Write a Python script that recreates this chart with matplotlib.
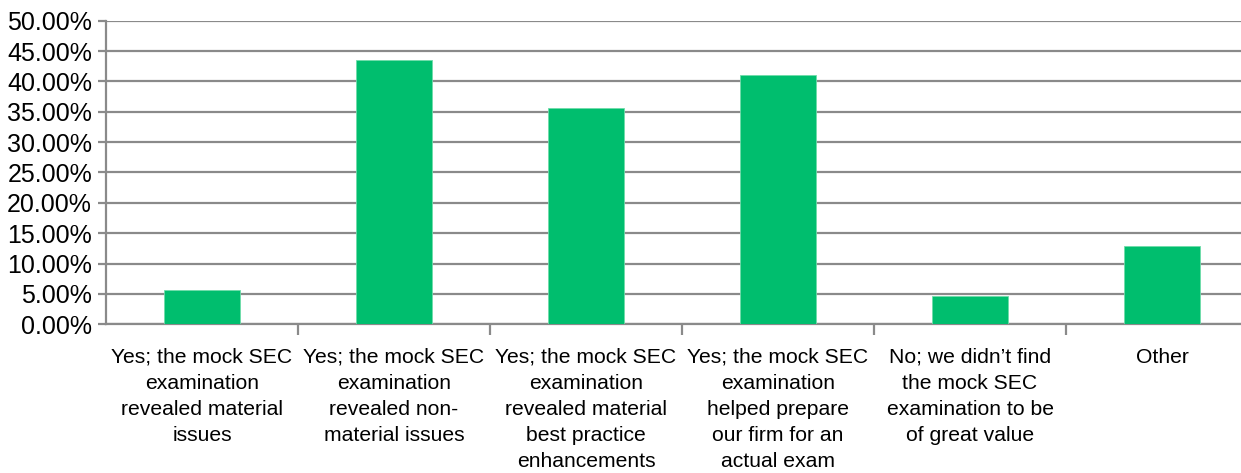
import numpy as np
import matplotlib.pyplot as plt
from matplotlib.ticker import FixedLocator, PercentFormatter

# survey answers and share of respondents (%)
categories = [
    "Yes; the mock SEC\nexamination\nrevealed material\nissues",
    "Yes; the mock SEC\nexamination\nrevealed non-\nmaterial issues",
    "Yes; the mock SEC\nexamination\nrevealed material\nbest practice\nenhancements",
    "Yes; the mock SEC\nexamination\nhelped prepare\nour firm for an\nactual exam",
    "No; we didn\u2019t find\nthe mock SEC\nexamination to be\nof great value",
    "Other",
]
shares = [5.6, 43.6, 35.6, 41.1, 4.6, 12.9]
yticks = np.arange(0, 50.1, 5)

BAR_COLOR = "#00be6e"
GRID_COLOR = "#8a8a8a"

plt.rcParams.update({
    "font.family": ["Liberation Sans", "DejaVu Sans"],
    "figure.facecolor": "white",
    "axes.facecolor": "white",
})

fig = plt.figure(figsize=(12.41, 4.73), dpi=100)
ax = fig.add_axes([106 / 1241, 148.7 / 473, 1 - 106 / 1241, 303.6 / 473])

x = np.arange(len(categories))
ax.bar(x, shares, width=0.4, color=BAR_COLOR, edgecolor="#6fdcaa",
       linewidth=0.6, zorder=3)

ax.set_ylim(0, 50)
ax.set_xlim(-0.5, (1241 - 106) / 192 - 0.5)

ax.set_yticks(yticks)
ax.yaxis.set_major_formatter(PercentFormatter(decimals=2))
ax.grid(axis="y", color=GRID_COLOR, linewidth=1.6, zorder=0)
ax.set_axisbelow(True)

# labels sit under bar centres, tick marks go on the category boundaries
ax.set_xticks(x)
ax.set_xticklabels(categories, fontsize=15.2, linespacing=1.47,
                   multialignment="center")
ax.xaxis.set_minor_locator(FixedLocator(np.arange(0.5, len(categories), 1.0)))
ax.tick_params(axis="x", which="major", length=0, pad=17)
ax.tick_params(axis="x", which="minor", length=8, width=1.6, color=GRID_COLOR)
ax.tick_params(axis="y", length=6, width=1.6, color=GRID_COLOR,
               labelsize=18, pad=4)

for side in ("top", "right"):
    ax.spines[side].set_visible(False)
for side in ("left", "bottom"):
    ax.spines[side].set_color(GRID_COLOR)
    ax.spines[side].set_linewidth(1.6)

fig.savefig("out.png", dpi=100)
